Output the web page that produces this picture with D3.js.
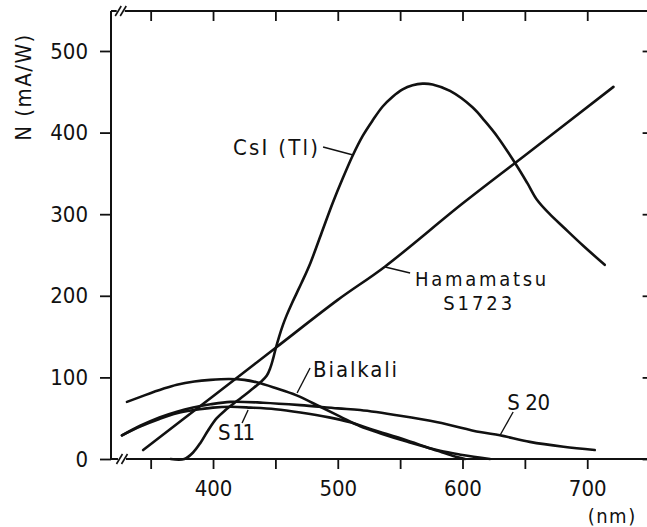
<!DOCTYPE html>
<html>
<head>
<meta charset="utf-8">
<script src="https://cdn.jsdelivr.net/npm/d3@7"></script>
<style>
  html, body { margin: 0; padding: 0; background: #fff; }
  svg { display: block; }
  text { font-family: "DejaVu Sans Condensed", "DejaVu Sans", sans-serif; font-stretch: condensed; fill: #111; }
</style>
</head>
<body>
<svg id="chart" width="647" height="527"></svg>
<script>
// Spectral responsivity N (mA/W) versus wavelength (nm)
const xTicks = [400, 500, 600, 700];
const xMinorTicks = [350, 450, 550, 650];
const yTicks = [0, 100, 200, 300, 400, 500];

// [wavelength nm, responsivity mA/W]
const csiTl = [[366,0],[377,0],[384,8],[390,20],[396,35],[403,50],[410,60],[420,72],[430,84],[438,94],
  [443,102],[446,112],[448,122],[450,134],[453,150],[456,164],[459,176],[463,190],[467,203],[471,216],
  [478,240],[487,277],[496,314],[504,344],[512,372],[520,396],[528,415],[536,432],[544,444],[552,453],
  [560,458],[568,460],[576,459],[590,451],[608,431],[618,414],[628,395],[642,363],[652,338],[660,317],
  [670,300],[681,284],[697,261],[714,238]];
const hamamatsu = [[344,11],[400,77],[450,136],[500,195],[538,236],[600,313],[650,372],[721,456]];
const bialkali = [[331,70],[345,78],[360,86],[371,91],[385,95],[398,97],[413,98],[425,97],[435,94],
  [450,87],[467,78],[486,64],[502,52],[518,40],[535,31],[556,21],[582,10],[600,5],[622,0]];
const s20 = [[327,29],[342,41],[357,51],[371,58],[384,63],[398,67],[414,70],[440,69],[470,66],
  [500,62],[518,60],[550,53],[580,45],[614,33],[630,29],[654,21],[681,15],[706,11]];
const s11 = [[327,29],[342,40],[357,49],[371,56],[385,60],[400,63],[414,64],[430,63],[450,61],
  [470,57],[493,51],[510,45],[528,36],[555,23],[580,10],[592,4],[602,0]];

// Curve labels: text position, leader start, leader end (all in data units)
const labels = [
  { lines: ["CsI (Tl)"], at: [416, 372.5], from: [488.2, 382.3], to: [512.3, 372.5], width: 85, size: 22 },
  { lines: ["Hamamatsu", "S1723"], at: [562, 212], from: [538, 235.3], to: [558, 228], width: 131, size: 20,
    second: [584.5, 183], width2: 69 },
  { lines: ["Bialkali"], at: [480.2, 100.5], from: [477.8, 111.5], to: [467.4, 80.9], width: 84, size: 22 },
  { lines: ["S 11"], at: [404, 23.3], from: [423.3, 44.1], to: [428.1, 60], width: 37, size: 22 },
  { lines: ["S 20"], at: [635.8, 60], from: [640.6, 57.6], to: [630.2, 29.4], width: 43, size: 22 }
];

const svg = d3.select("#chart");
const x = d3.scaleLinear().domain([318.2, 750]).range([111, 649.6]);
const y = d3.scaleLinear().domain([0, 549]).range([459, 11]);

// Frame
const frame = svg.append("g").attr("stroke", "#111").attr("stroke-width", 2).attr("fill", "none");
frame.append("line").attr("x1", x(318.2)).attr("x2", x(750)).attr("y1", y(0)).attr("y2", y(0));
frame.append("line").attr("x1", x(318.2)).attr("x2", x(750)).attr("y1", y(549)).attr("y2", y(549));
frame.append("line").attr("x1", x(318.2)).attr("x2", x(318.2)).attr("y1", y(0)).attr("y2", y(549));
frame.append("line").attr("x1", x(750)).attr("x2", x(750)).attr("y1", y(0)).attr("y2", y(549));

// Bottom axis (ticks outward)
const xAxis = d3.axisBottom(x).tickValues(xTicks.concat(xMinorTicks)).tickSize(10).tickPadding(10)
  .tickFormat(d => xTicks.includes(d) ? d : "");
const gx = svg.append("g").attr("transform", `translate(0,${y(0)})`).call(xAxis);
gx.select(".domain").remove();
gx.selectAll(".tick line").attr("stroke", "#111").attr("stroke-width", 1.8);
gx.selectAll(".tick text").attr("font-size", 22).attr("dy", "0.75em").style("font-family", null);

// Top axis (ticks inward)
const gxt = svg.append("g").attr("transform", `translate(0,${y(549)})`)
  .call(d3.axisBottom(x).tickValues(xTicks.concat(xMinorTicks)).tickSize(10).tickFormat(""));
gxt.select(".domain").remove();
gxt.selectAll(".tick line").attr("stroke", "#111").attr("stroke-width", 1.8);

// Left axis (ticks outward)
const yAxis = d3.axisLeft(y).tickValues(yTicks).tickSize(11).tickPadding(12);
const gy = svg.append("g").attr("transform", `translate(${x(318.2)},0)`).call(yAxis);
gy.select(".domain").remove();
gy.selectAll(".tick line").attr("stroke", "#111").attr("stroke-width", 1.8);
gy.selectAll(".tick text").attr("font-size", 22).style("font-family", null);

// Right axis (ticks inward)
const gyr = svg.append("g").attr("transform", `translate(${x(750)},0)`)
  .call(d3.axisRight(y).tickValues(yTicks).tickSize(-7).tickFormat(""));
gyr.select(".domain").remove();
gyr.selectAll(".tick line").attr("stroke", "#111").attr("stroke-width", 1.8);

// Axis break marks
function breakMark(cx, cy) {
  const g = svg.append("g").attr("transform", `translate(${cx},${cy})`);
  g.append("rect").attr("x", -4).attr("y", -3).attr("width", 8).attr("height", 6).attr("fill", "#fff");
  [-2.5, 2.5].forEach(dx => g.append("line")
    .attr("x1", dx - 3).attr("y1", 5).attr("x2", dx + 3).attr("y2", -5)
    .attr("stroke", "#111").attr("stroke-width", 1.6));
}
breakMark(x(327), y(0));
breakMark(x(326), y(549));

// Axis titles
svg.append("text").attr("transform", `translate(31,${87}) rotate(-90)`)
  .attr("text-anchor", "middle").attr("font-size", 22).attr("letter-spacing", 1.5).text("N (mA/W)");
svg.append("text").attr("x", x(720)).attr("y", 523).attr("text-anchor", "middle")
  .attr("font-size", 20).attr("letter-spacing", 1.5).text("(nm)");

// Curves
const line = d3.line().x(d => x(d[0])).y(d => y(d[1])).curve(d3.curveCatmullRom.alpha(0.5));
const curves = svg.append("g").attr("fill", "none").attr("stroke", "#111")
  .attr("stroke-width", 2.6).attr("stroke-linejoin", "round").attr("stroke-linecap", "round");
[csiTl, hamamatsu, bialkali, s20, s11].forEach(series => curves.append("path").attr("d", line(series)));

// Labels with leader lines
labels.forEach(l => {
  svg.append("line").attr("x1", x(l.from[0])).attr("y1", y(l.from[1]))
    .attr("x2", x(l.to[0])).attr("y2", y(l.to[1])).attr("stroke", "#111").attr("stroke-width", 1.4);
  svg.append("text").attr("x", x(l.at[0])).attr("y", y(l.at[1])).attr("font-size", l.size)
    .attr("textLength", l.width).attr("lengthAdjust", "spacing").text(l.lines[0]);
  if (l.second) {
    svg.append("text").attr("x", x(l.second[0])).attr("y", y(l.second[1])).attr("font-size", l.size)
      .attr("textLength", l.width2).attr("lengthAdjust", "spacing").text(l.lines[1]);
  }
});
</script>
</body>
</html>
